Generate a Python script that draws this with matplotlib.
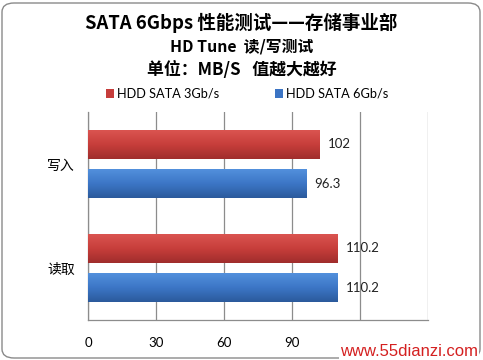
import numpy as np
import matplotlib
matplotlib.use("Agg")
import matplotlib.pyplot as plt
from matplotlib.patches import FancyBboxPatch
from matplotlib.colors import LinearSegmentedColormap

plt.rcParams["font.family"] = ["Noto Sans CJK SC", "DejaVu Sans"]

# ── Data ──────────────────────────────────────────────────────────────────────
categories = ["写入", "读取"]
series_names = ["HDD SATA 3Gb/s", "HDD SATA 6Gb/s"]
sata3 = [102, 110.2]
sata6 = [96.3, 110.2]
x_ticks = [0, 30, 60, 90, 120, 150]
x_tick_labels = ["0", "30", "60", "90", "", ""]

RED = "#C63D3B"
BLUE = "#3B74C4"
red_grad = LinearSegmentedColormap.from_list("r", ["#DA5450", "#C73E3B", "#A02D2C"])
blue_grad = LinearSegmentedColormap.from_list("b", ["#5290DC", "#3C76C6", "#2B5A9C"])

fig = plt.figure(figsize=(4.83, 3.6), dpi=100)
fig.patch.set_facecolor("white")

# rounded outer frame
frame = FancyBboxPatch((2 / 483, 2 / 360), 478 / 483, 355 / 360,
                       boxstyle="round,pad=0,rounding_size=0.025",
                       transform=fig.transFigure, fill=False,
                       edgecolor="#8a8a8a", linewidth=1.0)
fig.patches.append(frame)

# titles
fig.text(0.5, 1 - 23 / 360, "SATA 6Gbps 性能测试——存储事业部", ha="center", va="center",
         fontsize=13.3, fontweight="bold")
fig.text(0.5, 1 - 47 / 360, "HD Tune  读/写测试", ha="center", va="center",
         fontsize=11.4, fontweight="bold")
fig.text(0.5, 1 - 70 / 360, "单位：MB/S   值越大越好", ha="center", va="center",
         fontsize=12.2, fontweight="bold")

# ── Axes ──────────────────────────────────────────────────────────────────────
ax = fig.add_axes([88 / 483, 40 / 360, 340 / 483, 208 / 360])
y = np.arange(len(categories))
h = 0.27
off = 0.1875
bars3 = ax.barh(y - off, sata3, height=h, color=RED, edgecolor="none",
                label=series_names[0], zorder=3)
bars6 = ax.barh(y + off, sata6, height=h, color=BLUE, edgecolor="none",
                label=series_names[1], zorder=3)

ax.set_xlim(0, 150)
ax.set_ylim(1.5, -0.5)

# vertical gradient fill clipped to each bar
grad = np.linspace(0, 1, 64).reshape(-1, 1)
for bars, cmap in ((bars3, red_grad), (bars6, blue_grad)):
    for b in bars:
        x0, y0, w, hh = b.get_x(), b.get_y(), b.get_width(), b.get_height()
        im = ax.imshow(grad, cmap=cmap, aspect="auto", origin="upper",
                       extent=(x0, x0 + w, y0 + hh, y0), zorder=3.5)
        im.set_clip_path(b)

for bars, vals in ((bars3, sata3), (bars6, sata6)):
    for b, v in zip(bars, vals):
        ax.text(v + 3.6, b.get_y() + b.get_height() / 2, f"{v:g}", va="center", ha="left",
                fontsize=9.5, color="#222222", family="Lato")

ax.set_xticks(x_ticks)
ax.set_xticklabels(x_tick_labels, fontsize=9.5, family="Lato")
ax.set_yticks(y)
ax.set_yticklabels(categories, fontsize=10)
ax.tick_params(axis="x", length=0, pad=12)
ax.tick_params(axis="y", length=0, pad=9.5)
ax.grid(axis="x", color="#8c8c8c", linewidth=0.9, zorder=0)
for s in ["top", "right"]:
    ax.spines[s].set_visible(False)
for s in ["left", "bottom"]:
    ax.spines[s].set_color("#8c8c8c")
    ax.spines[s].set_linewidth(0.9)

fig.legend(handles=[bars3, bars6], labels=series_names, loc="center",
           bbox_to_anchor=(247 / 483, 1 - 94 / 360), ncol=2, frameon=False,
           prop={"family": "Lato", "size": 9.2},
           handlelength=0.65, handleheight=0.65, columnspacing=4.4, handletextpad=0.2)

# watermark
fig.text(478 / 483, 1 - 351 / 360, "www.55dianzi.com", ha="right", va="center",
         fontsize=12, color="#d42020", family="Liberation Sans",
         bbox=dict(facecolor="white", edgecolor="none", pad=1))

fig.savefig("out.png", dpi=100, facecolor="white")
